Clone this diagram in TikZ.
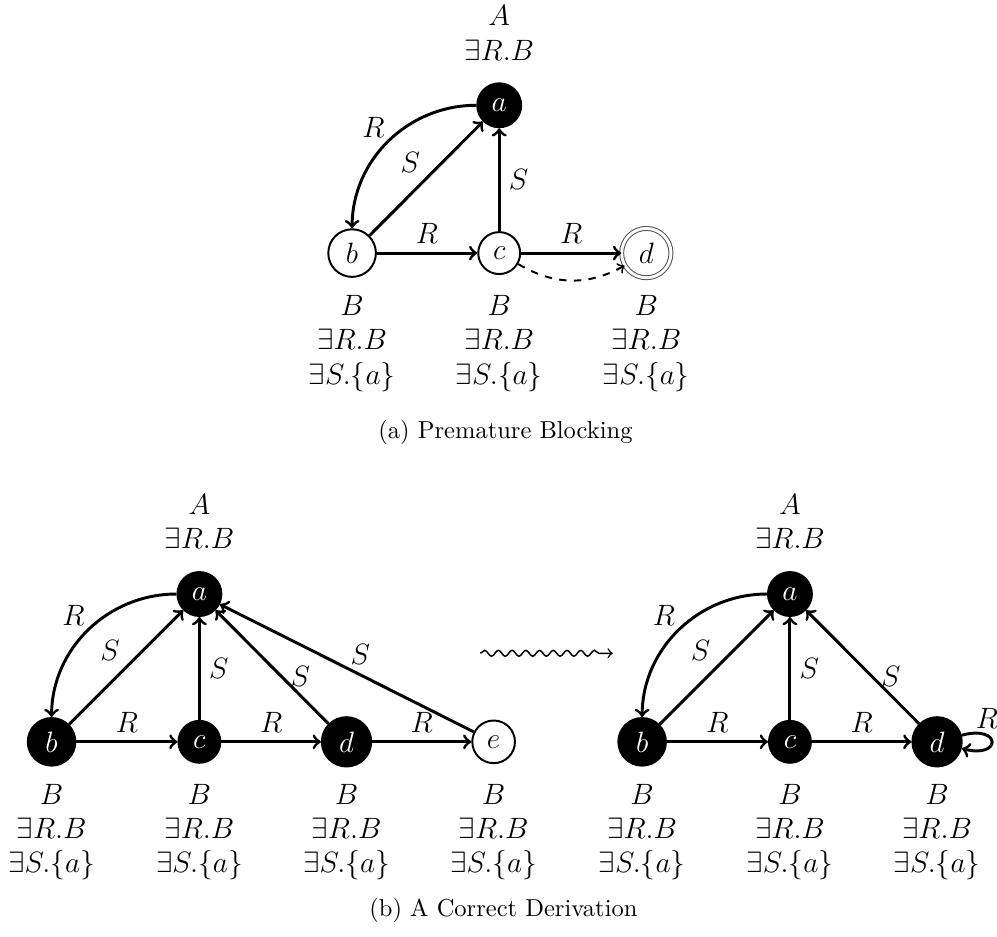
\documentclass[tikz,border=0pt]{standalone}
\usepackage{amsmath}
\usepackage{amssymb}
\usepackage{tikz}
\usetikzlibrary{positioning, decorations.pathmorphing}
\tikzset{
  wnode/.style={circle, draw, thick, inner sep=3.5pt, font=\large},
  bnode/.style={circle, draw, fill=black, text=white, thick, inner sep=3.5pt, font=\large},
  dnode/.style={circle, draw=black!70, double, double distance=1.2pt, inner sep=3.5pt, font=\large},
  concepts/.style={align=center, inner sep=0pt, font=\large},
  elabel/.style={font=\large},
  rel/.style={->, very thick},
}

\begin{document}
\begin{tikzpicture}
			\useasboundingbox (0,0) rectangle (14.30,-13.43);
			% (a) premature blocking
			\node[bnode] (a1) at (7.16,-1.51) {$a$};
			\node[wnode] (b1) at (5.05,-3.63) {$b$};
			\node[wnode] (c1) at (7.16,-3.63) {$c$};
			\node[dnode] (d1) at (9.27,-3.63) {$d$};
			\node[concepts, above=0.64cm of a1.center] (a1t) {$A$\\$\exists R.B$};
			\node[concepts, below=0.6cm of b1.center] (b1t) {$B$\\$\exists R.B$\\$\exists S.\{a\}$};
			\node[concepts, below=0.6cm of c1.center] (c1t) {$B$\\$\exists R.B$\\$\exists S.\{a\}$};
			\node[concepts, below=0.6cm of d1.center] (d1t) {$B$\\$\exists R.B$\\$\exists S.\{a\}$};
			\draw[rel] (a1) to[out=180,in=90] node[above left, inner sep=1pt, elabel] {$R$} (b1);
			\draw[rel] (b1) -- node[above left, inner sep=2pt, elabel] {$S$} (a1);
			\draw[rel] (c1) -- node[right, elabel] {$S$} (a1);
			\draw[rel] (b1) -- node[above, elabel] {$R$} (c1);
			\draw[rel] (c1) -- node[above, elabel] {$R$} (d1);
			\draw[->, thick, dashed] (c1) to[bend right=30] (d1);
			\node (capa) at (7.25,-6.20) {(a) Premature Blocking};
			% (b) a correct derivation, before
			\node[bnode] (a2) at (2.86,-8.52) {$a$};
			\node[bnode] (b2) at (0.74,-10.64) {$b$};
			\node[bnode] (c2) at (2.86,-10.64) {$c$};
			\node[bnode] (d2) at (4.97,-10.64) {$d$};
			\node[wnode] (e2) at (7.08,-10.64) {$e$};
			\node[concepts, above=0.64cm of a2.center] (a2t) {$A$\\$\exists R.B$};
			\node[concepts, below=0.6cm of b2.center] (b2t) {$B$\\$\exists R.B$\\$\exists S.\{a\}$};
			\node[concepts, below=0.6cm of c2.center] (c2t) {$B$\\$\exists R.B$\\$\exists S.\{a\}$};
			\node[concepts, below=0.6cm of d2.center] (d2t) {$B$\\$\exists R.B$\\$\exists S.\{a\}$};
			\node[concepts, below=0.6cm of e2.center] (e2t) {$B$\\$\exists R.B$\\$\exists S.\{a\}$};
			\draw[rel] (a2) to[out=180,in=90] node[above left, inner sep=1pt, elabel] {$R$} (b2);
			\draw[rel] (b2) -- node[above left, inner sep=2pt, elabel] {$S$} (a2);
			\draw[rel] (c2) -- node[right, elabel] {$S$} (a2);
			\draw[rel] (d2) -- node[pos=0.42, right, elabel] {$S$} (a2);
			\draw[rel] (e2) -- node[above right, inner sep=1pt, elabel] {$S$} (a2);
			\draw[rel] (b2) -- node[above, elabel] {$R$} (c2);
			\draw[rel] (c2) -- node[above, elabel] {$R$} (d2);
			\draw[rel] (d2) -- node[above, elabel] {$R$} (e2);
			% derivation step
			\coordinate (wstart) at (6.89,-9.37);
			\coordinate (wend) at (8.79,-9.37);
			\draw[->, semithick, decorate, decoration={snake, amplitude=1.2pt, segment length=5.6pt, post length=3pt}] (wstart) -- (wend);
			% (b) after
			\node[bnode] (a3) at (11.33,-8.52) {$a$};
			\node[bnode] (b3) at (9.21,-10.64) {$b$};
			\node[bnode] (c3) at (11.33,-10.64) {$c$};
			\node[bnode] (d3) at (13.44,-10.64) {$d$};
			\node[concepts, above=0.64cm of a3.center] (a3t) {$A$\\$\exists R.B$};
			\node[concepts, below=0.6cm of b3.center] (b3t) {$B$\\$\exists R.B$\\$\exists S.\{a\}$};
			\node[concepts, below=0.6cm of c3.center] (c3t) {$B$\\$\exists R.B$\\$\exists S.\{a\}$};
			\node[concepts, below=0.6cm of d3.center] (d3t) {$B$\\$\exists R.B$\\$\exists S.\{a\}$};
			\draw[rel] (a3) to[out=180,in=90] node[above left, inner sep=1pt, elabel] {$R$} (b3);
			\draw[rel] (b3) -- node[above left, inner sep=2pt, elabel] {$S$} (a3);
			\draw[rel] (c3) -- node[right, elabel] {$S$} (a3);
			\draw[rel] (d3) -- node[pos=0.42, right, elabel] {$S$} (a3);
			\draw[rel] (b3) -- node[above, elabel] {$R$} (c3);
			\draw[rel] (c3) -- node[above, elabel] {$R$} (d3);
			\draw[rel] (d3) to[loop right] node[pos=0.3, above, inner sep=2pt, elabel] {$R$} (d3);
			\node (capb) at (7.22,-13.06) {(b) A Correct Derivation};
		\end{tikzpicture}
\end{document}
